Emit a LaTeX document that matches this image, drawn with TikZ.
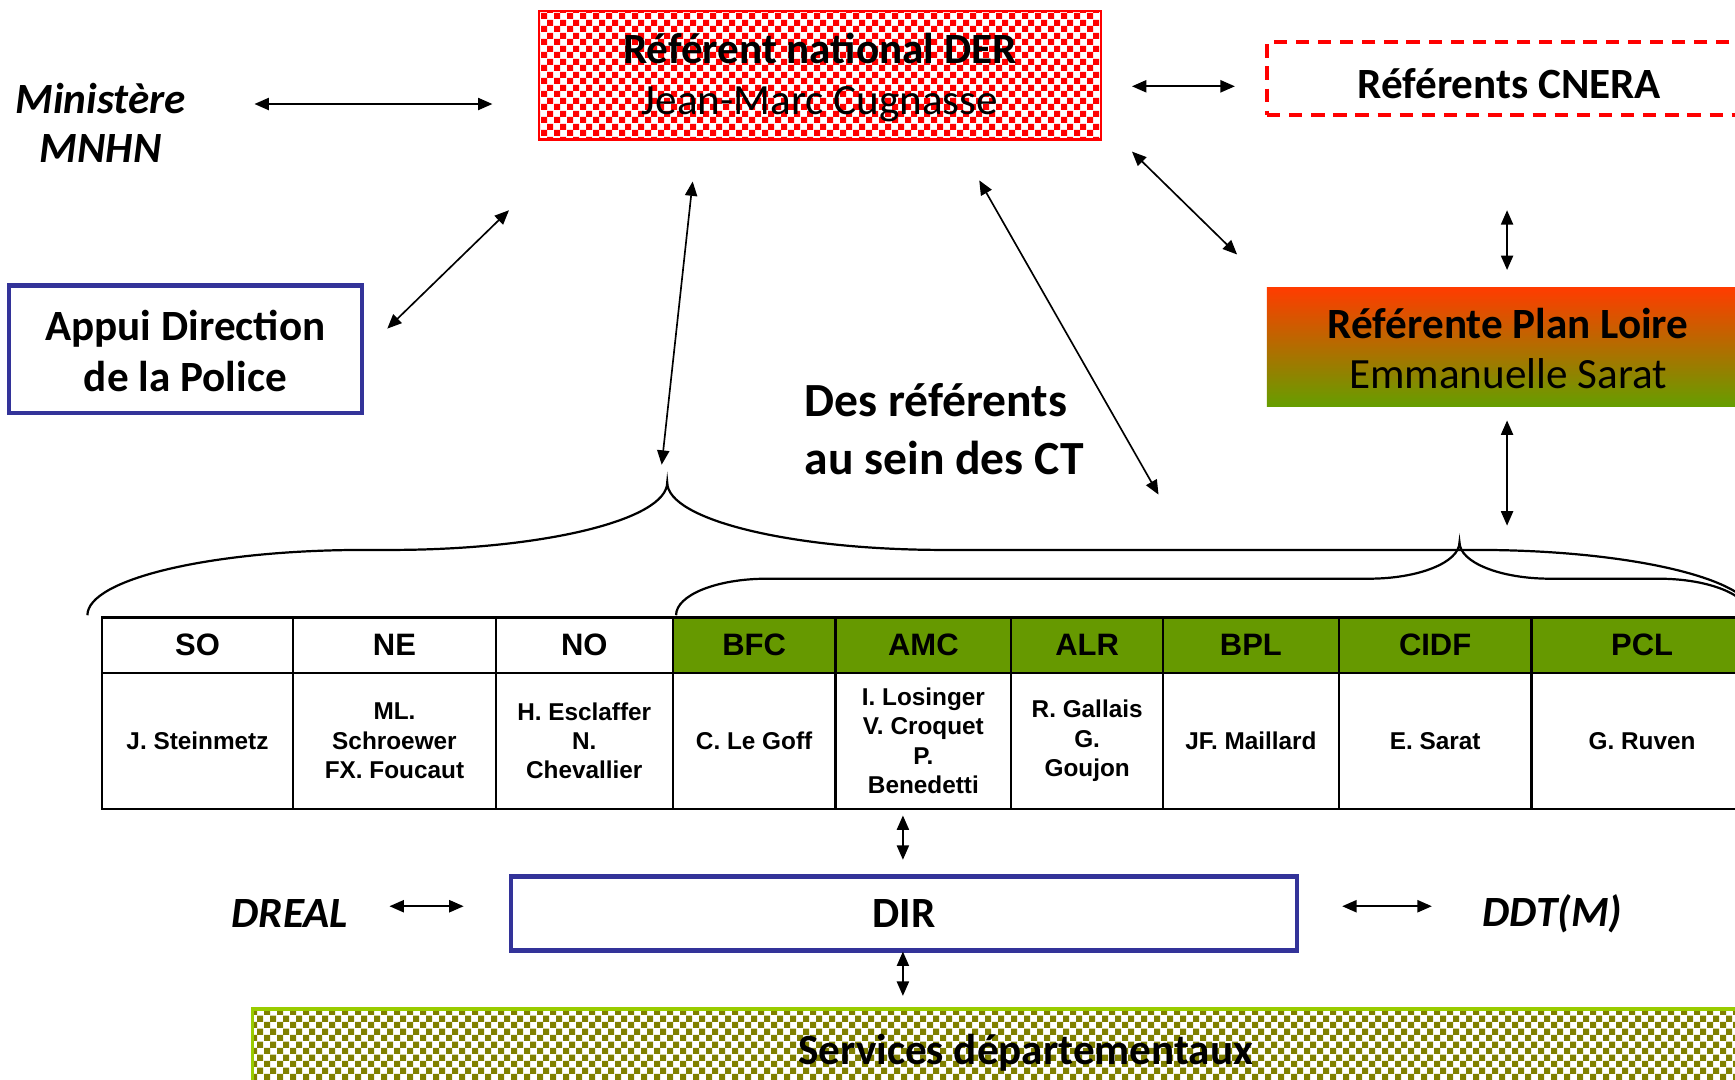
\documentclass[tikz,border=0pt]{standalone}
\usepackage{fontspec}
\setmainfont{Carlito}
\newfontfamily\arialf{Liberation Sans}
\usetikzlibrary{arrows.meta,patterns}
\definecolor{dirblue}{RGB}{51,51,153}
\definecolor{hdrgreen}{RGB}{102,153,0}
\definecolor{plorange}{RGB}{255,60,0}
\definecolor{plgreen}{RGB}{102,158,0}
\definecolor{olivepat}{RGB}{128,128,0}
\definecolor{limeborder}{RGB}{153,204,0}
\begin{document}
\begin{tikzpicture}[x=1pt,y=-1pt,
  big/.style={font=\fontsize{39}{46}\selectfont, align=center, inner sep=0pt},
  bigb/.style={big, font=\fontsize{39}{46}\selectfont\bfseries},
  bigbi/.style={big, font=\fontsize{39}{44}\selectfont\bfseries\itshape},
  dbl/.style={{Triangle[length=13pt,width=11pt]}-{Triangle[length=13pt,width=11pt]}, line width=1.5pt, black},
  bracepath/.style={line width=2pt, black},
  cell/.style={draw=black, line width=2pt, inner sep=0pt, align=center},
  hcell/.style={cell, minimum height=50pt, font=\arialf\bfseries\fontsize{28}{32}\selectfont},
  bcell/.style={cell, minimum height=123pt, font=\arialf\bfseries\fontsize{22}{26.5}\selectfont},
]
\clip (0,0) rectangle (1568,976);
\fill[white] (0,0) rectangle (1568,976);

% top boxes
\node[draw=red, line width=2pt, pattern=checkerboard, pattern color=red,
      minimum width=508pt, minimum height=116pt, inner sep=0pt] (der) at (741,68) {};
\node[big] (dertxt) at (741,70) {\textbf{Référent national DER}\\Jean-Marc Cugnasse};

\node[draw=red, line width=3pt, dash pattern=on 12pt off 8pt,
      minimum width=436pt, minimum height=66pt, inner sep=0pt] (cnera) at (1363,71) {};
\node[bigb] (cneratxt) at (1364,76) {Référents CNERA};

\node[top color=plorange, bottom color=plgreen, minimum width=436pt, minimum height=107pt, inner sep=0pt] (loire) at (1363,313.5) {};
\node[big] (loiretxt) at (1363,315) {\textbf{Référente Plan Loire}\\Emmanuelle Sarat};

\node[bigbi] (min) at (91,111) {Ministère\\MNHN};

\node[draw=dirblue, line width=4pt, minimum width=319pt, minimum height=115pt, inner sep=0pt] (appui) at (167.5,315.5) {};
\node[bigb] (appuitxt) at (167.5,317) {Appui Direction\\de la Police};

\node[bigb, align=left, anchor=west, font=\fontsize{43}{52}\selectfont\bfseries] (ct) at (727,388) {Des référents\\au sein des CT};

% table
\node[hcell, minimum width=173pt] (h1) at (178.5,583) {SO};
\node[hcell, minimum width=183pt] (h2) at (356.5,583) {NE};
\node[hcell, minimum width=160pt] (h3) at (528,583) {NO};
\node[hcell, fill=hdrgreen, minimum width=147pt] (h4) at (681.5,583) {BFC};
\node[hcell, fill=hdrgreen, minimum width=159pt] (h5) at (834.5,583) {AMC};
\node[hcell, fill=hdrgreen, minimum width=137pt] (h6) at (982.5,583) {ALR};
\node[hcell, fill=hdrgreen, minimum width=159pt] (h7) at (1130.5,583) {BPL};
\node[hcell, fill=hdrgreen, minimum width=174pt] (h8) at (1297,583) {CIDF};
\node[hcell, fill=hdrgreen, minimum width=200pt] (h9) at (1484,583) {PCL};

\node[bcell, minimum width=173pt] (b1) at (178.5,669.5) {J. Steinmetz};
\node[bcell, minimum width=183pt] (b2) at (356.5,669.5) {ML.\\Schroewer\\FX. Foucaut};
\node[bcell, minimum width=160pt] (b3) at (528,669.5) {H. Esclaffer\\N.\\Chevallier};
\node[bcell, minimum width=147pt] (b4) at (681.5,669.5) {C. Le Goff};
\node[bcell, minimum width=159pt] (b5) at (834.5,669.5) {I. Losinger\\V. Croquet\\P.\\Benedetti};
\node[bcell, minimum width=137pt] (b6) at (982.5,669.5) {R. Gallais\\G.\\Goujon};
\node[bcell, minimum width=159pt] (b7) at (1130.5,669.5) {JF. Maillard};
\node[bcell, minimum width=174pt] (b8) at (1297,669.5) {E. Sarat};
\node[bcell, minimum width=200pt] (b9) at (1484,669.5) {G. Ruven};

% DIR row
\node[draw=dirblue, line width=4pt, minimum width=710pt, minimum height=67pt, inner sep=0pt, font=\fontsize{39}{46}\selectfont\bfseries] (dir) at (817,825.5) {DIR};
\node[bigbi] (dreal) at (262,826) {DREAL};
\node[bigbi] (ddtm) at (1403,826) {DDT(M)};

% services
\node[draw=limeborder, line width=3pt, pattern=checkerboard, pattern color=olivepat,
      minimum width=1398pt, minimum height=76pt, inner sep=0pt] (serv) at (927,950) {};
\node[bigb] (servtxt) at (927,951) {Services départementaux};

% braces
\coordinate (tipA) at (603,436);
\coordinate (tipB) at (1319,490);
\draw[bracepath] (79,556) .. controls (79,523.4) and (191,497) .. (329,497) -- (353,497)
  .. controls (491,497) and (603,469.7) .. (tipA)
  .. controls (603,469.7) and (715,497) .. (853,497) -- (1335,497)
  .. controls (1473,497) and (1585,523.4) .. (1585,556);
\draw[bracepath] (611,556) .. controls (611,537.8) and (647.7,523) .. (693,523) -- (1237,523)
  .. controls (1282.3,523) and (1319,508.2) .. (tipB)
  .. controls (1319,508.2) and (1355.7,523) .. (1401,523) -- (1499,523)
  .. controls (1544.3,523) and (1581,537.8) .. (1581,556);

% arrow end points
\coordinate (a1) at (230,94);   \coordinate (a2) at (445,94);
\coordinate (b1) at (1023,78);  \coordinate (b2) at (1116,78);
\coordinate (c1) at (460,190);  \coordinate (c2) at (350,297);
\coordinate (d1) at (626,164);  \coordinate (d2) at (598,420);
\coordinate (e1) at (885,163);  \coordinate (e2) at (1047,447);
\coordinate (f1) at (1023,137); \coordinate (f2) at (1118,230);
\coordinate (g1) at (1362,190); \coordinate (g2) at (1362,244);
\coordinate (k1) at (1362,380); \coordinate (k2) at (1362,475);
\coordinate (i1) at (816,737);  \coordinate (i2) at (816,777);
\coordinate (j1) at (816,860);  \coordinate (j2) at (816,900);
\coordinate (m1) at (352,819);  \coordinate (m2) at (419,819);
\coordinate (n1) at (1213,819); \coordinate (n2) at (1294,819);

\draw[dbl] (a1) -- (a2);
\draw[dbl] (b1) -- (b2);
\draw[dbl] (c1) -- (c2);
\draw[dbl] (d1) -- (d2);
\draw[dbl] (e1) -- (e2);
\draw[dbl] (f1) -- (f2);
\draw[dbl] (g1) -- (g2);
\draw[dbl] (k1) -- (k2);
\draw[dbl] (i1) -- (i2);
\draw[dbl] (j1) -- (j2);
\draw[dbl] (m1) -- (m2);
\draw[dbl] (n1) -- (n2);
\end{tikzpicture}
\end{document}
